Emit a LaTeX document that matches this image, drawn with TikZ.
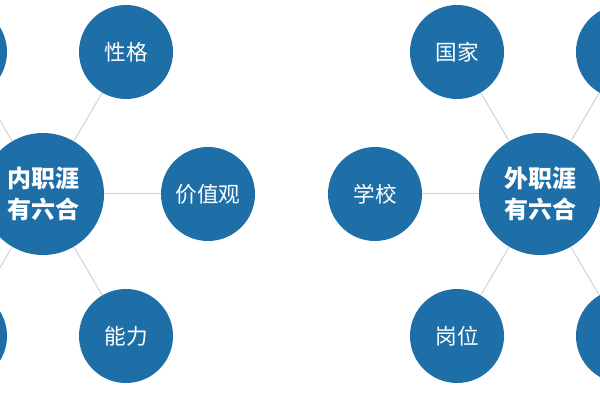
\documentclass[tikz,border=0pt]{standalone}
\usepackage{fontspec}
\usetikzlibrary{calc}
\newfontfamily\cjk{Noto Sans CJK SC}
\definecolor{hexblue}{HTML}{1E6FA8}
\tikzset{
  hub/.style={circle,fill=hexblue,text=white,minimum size=61pt,inner sep=0pt,
    align=center,font=\cjk\bfseries\fontsize{12pt}{15.5pt}\selectfont},
  leaf/.style={circle,fill=hexblue,text=white,minimum size=47pt,inner sep=0pt,
    font=\cjk\fontsize{10.8pt}{12pt}\selectfont},
  spoke/.style={draw=gray!35,line width=0.5pt}
}
\begin{document}
\begin{tikzpicture}[x=0.5pt,y=-0.5pt]
  \useasboundingbox (0,0) rectangle (600,400);
  \clip (0,0) rectangle (600,400);
  \def\dx{83}
  \def\dy{142}
  \def\side{165}
  % inner career
  \node[hub] (inner) at (43,194) {内职涯\\有六合};
  \node[leaf] (innerNE) at ($(inner)+(\dx,-\dy)$) {性格};
  \node[leaf] (innerE) at ($(inner)+(\side,0)$) {价值观};
  \node[leaf] (innerSE) at ($(inner)+(\dx,\dy)$) {能力};
  \node[leaf] (innerNW) at ($(inner)+(-\dx,-\dy)$) {};
  \node[leaf] (innerSW) at ($(inner)+(-\dx,\dy)$) {};
  % outer career
  \node[hub] (outer) at (540,194) {外职涯\\有六合};
  \node[leaf] (outerNW) at ($(outer)+(-\dx,-\dy)$) {国家};
  \node[leaf] (outerW) at ($(outer)+(-\side,0)$) {学校};
  \node[leaf] (outerSW) at ($(outer)+(-\dx,\dy)$) {岗位};
  \node[leaf] (outerNE) at ($(outer)+(\dx,-\dy)$) {};
  \node[leaf] (outerSE) at ($(outer)+(\dx,\dy)$) {};
  \foreach \hubname/\leafname in {inner/innerNE,inner/innerE,inner/innerSE,
      inner/innerNW,inner/innerSW,outer/outerNW,outer/outerW,outer/outerSW,
      outer/outerNE,outer/outerSE}{%
    \draw[spoke] (\hubname) -- (\leafname);
  }
\end{tikzpicture}
\end{document}
